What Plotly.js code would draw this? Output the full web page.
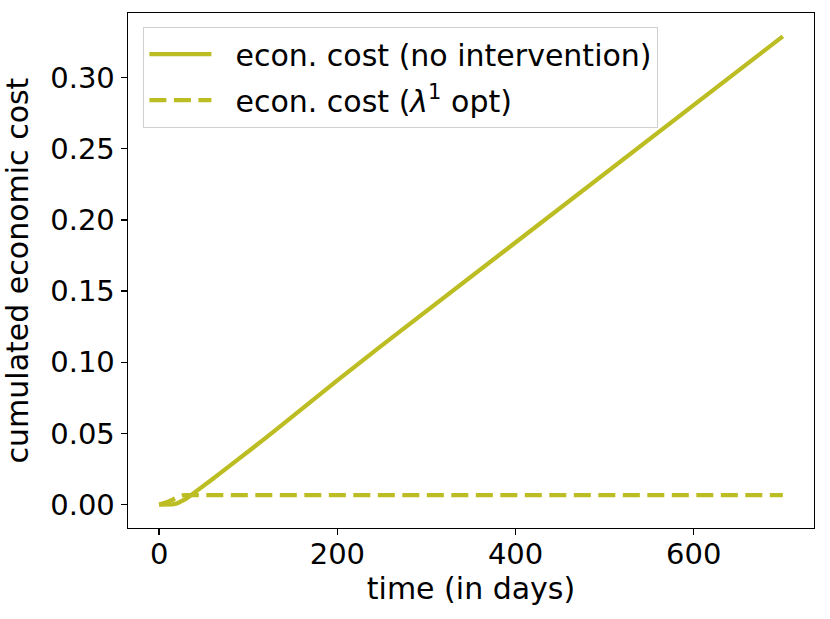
<!DOCTYPE html>
<html>
<head>
<meta charset="utf-8">
<script src="https://cdn.plot.ly/plotly-3.0.1.min.js"></script>
<style>html,body{margin:0;padding:0;background:#fff;}#chart{width:830px;height:619px;}</style>
</head>
<body>
<div id="chart"></div>
<script>
// time (days) and cumulated economic cost, no intervention
const tNoInt = [0,10,15,20,25,30,35,40,50,60,70,80,100,120,140,160,180,200,250,300,350,400,450,500,550,600,650,700];
const costNoInt = [0,0,0.0002,0.0008,0.002,0.004,0.0063,0.0088,0.0135,0.018,0.0228,0.0275,0.037,0.047,0.057,0.0672,0.0773,0.0873,0.1118,0.136,0.1602,0.1843,0.2084,0.2325,0.2566,0.2807,0.3048,0.3289];
// time (days) and cumulated economic cost, lambda^1 optimal
const tOpt = [0,5,10,15,18,22,26,30,50,100,200,300,400,500,600,700];
const costOpt = [0,0.0008,0.002,0.0034,0.0045,0.0058,0.0064,0.0066,0.0066,0.0066,0.0066,0.0066,0.0066,0.0066,0.0066,0.0066];
const xTicks = [0,200,400,600];
const yTicks = [0,0.05,0.10,0.15,0.20,0.25,0.30];
const yTickText = ['0.00','0.05','0.10','0.15','0.20','0.25','0.30'];

const olive = '#bcbd22';
const font = 'DejaVu Sans, sans-serif';
const sp = '\u00a0\u00a0';

const traces = [
  {x: tNoInt, y: costNoInt, mode: 'lines', name: sp + 'econ. cost (no intervention)',
   legendgroup: 'a', line: {color: olive, width: 4.3}},
  {x: tOpt, y: costOpt, mode: 'lines', name: sp + 'econ. cost (<i>λ</i><sup>1</sup> opt)',
   legendgroup: 'b', line: {color: olive, width: 4.3, dash: '17px,7.5px'}}
];

const axisCommon = {
  showline: true, mirror: true, linecolor: '#000', linewidth: 1.4,
  ticks: 'outside', ticklen: 6, tickwidth: 1.4, tickcolor: '#000',
  showgrid: false, zeroline: false,
  tickfont: {family: font, size: 29, color: '#000'}
};

const layout = {
  width: 830, height: 619,
  margin: {l: 128, r: 16, t: 13, b: 91},
  paper_bgcolor: '#fff', plot_bgcolor: '#fff',
  font: {family: font, size: 29, color: '#000'},
  showlegend: true,
  legend: {
    x: 0.022, y: 0.973, xanchor: 'left', yanchor: 'top',
    bgcolor: 'rgba(255,255,255,0.8)', bordercolor: '#d0d0d0', borderwidth: 1.3,
    font: {family: font, size: 30, color: '#000'},
    itemwidth: 62, tracegroupgap: 4
  },
  xaxis: Object.assign({}, axisCommon, {
    range: [-35, 735], tickvals: xTicks, ticktext: xTicks.map(String),
    ticklabelstandoff: -6,
    title: {text: 'time (in days)', font: {family: font, size: 30, color: '#000'}, standoff: 6}
  }),
  yaxis: Object.assign({}, axisCommon, {
    range: [-0.01645, 0.3453], tickvals: yTicks, ticktext: yTickText,
    title: {text: 'cumulated economic cost', font: {family: font, size: 30, color: '#000'}, standoff: 12}
  })
};

Plotly.newPlot('chart', traces, layout, {displayModeBar: false, staticPlot: true});
</script>
</body>
</html>
